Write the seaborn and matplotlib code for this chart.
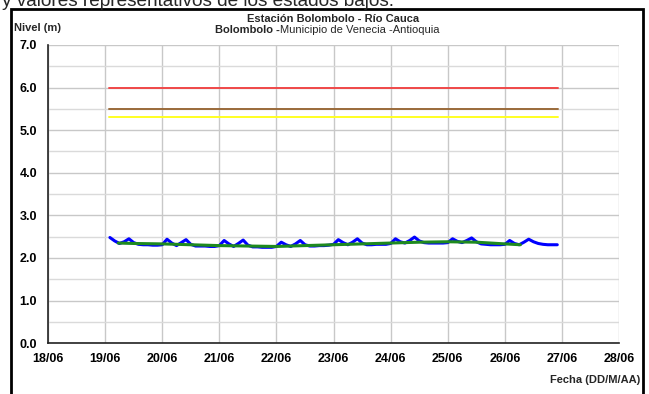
import pandas as pd
import numpy as np
import matplotlib
matplotlib.use('Agg')
import matplotlib.pyplot as plt
import matplotlib.dates as mdates
from matplotlib.patches import Rectangle
import seaborn as sns

# Nivel horario (cada 2 h) - 19/06 02:00 a 26/06 22:00
nivel_19 = [2.48, 2.40, 2.34, 2.38, 2.45, 2.36, 2.32, 2.31, 2.31, 2.30, 2.30]
nivel_20 = [2.31, 2.44, 2.35, 2.29, 2.36, 2.43, 2.32, 2.28, 2.28, 2.28, 2.27, 2.27]
nivel_21 = [2.29, 2.41, 2.33, 2.27, 2.34, 2.42, 2.30, 2.26, 2.26, 2.25, 2.25, 2.25]
nivel_22 = [2.27, 2.37, 2.31, 2.27, 2.33, 2.41, 2.31, 2.28, 2.28, 2.29, 2.29, 2.30]
nivel_23 = [2.32, 2.43, 2.36, 2.31, 2.37, 2.45, 2.35, 2.31, 2.31, 2.32, 2.32, 2.32]
nivel_24 = [2.34, 2.45, 2.38, 2.35, 2.41, 2.49, 2.40, 2.36, 2.35, 2.35, 2.35, 2.35]
nivel_25 = [2.36, 2.45, 2.39, 2.36, 2.41, 2.47, 2.38, 2.33, 2.32, 2.31, 2.31, 2.31]
nivel_26 = [2.32, 2.41, 2.34, 2.31, 2.37, 2.44, 2.38, 2.34, 2.32, 2.31, 2.31, 2.31]

# Media movil
media_fechas = ['2010-06-19 05:30', '2010-06-19 12:00', '2010-06-20 00:00', '2010-06-20 12:00',
                '2010-06-21 00:00', '2010-06-21 12:00', '2010-06-22 00:00', '2010-06-22 12:00',
                '2010-06-23 00:00', '2010-06-23 12:00', '2010-06-24 00:00', '2010-06-24 12:00',
                '2010-06-25 00:00', '2010-06-25 12:00', '2010-06-26 00:00', '2010-06-26 06:30']
media_valores = [2.35, 2.34, 2.33, 2.31, 2.29, 2.28, 2.27, 2.29,
                 2.31, 2.33, 2.35, 2.37, 2.38, 2.37, 2.33, 2.31]

# Umbrales
umbral_valores = [6.0, 5.5, 5.3]
umbral_colores = ['#f04848', '#9a6a3a', '#ffff22']
umbral_inicio = '2010-06-19 01:40'
umbral_fin = '2010-06-26 22:20'

nivel = nivel_19 + nivel_20 + nivel_21 + nivel_22 + nivel_23 + nivel_24 + nivel_25 + nivel_26
fechas = pd.date_range('2010-06-19 02:00', periods=len(nivel), freq='2h')
df = pd.DataFrame({'fecha': fechas, 'nivel': nivel})
df_media = pd.DataFrame({'fecha': pd.to_datetime(media_fechas), 'nivel': media_valores})

sns.set_style('white')
plt.rcParams['font.family'] = ['Liberation Sans', 'DejaVu Sans']

fig = plt.figure(figsize=(6.49, 3.94), dpi=100)
ax = fig.add_axes([0.074, 0.129, 0.880, 0.757])

for val, col in zip(umbral_valores, umbral_colores):
    d = pd.DataFrame({'fecha': pd.to_datetime([umbral_inicio, umbral_fin]), 'nivel': [val, val]})
    sns.lineplot(data=d, x='fecha', y='nivel', color=col, linewidth=1.4, ax=ax)

sns.lineplot(data=df, x='fecha', y='nivel', color='#0000ff', linewidth=2.2, ax=ax)
sns.lineplot(data=df_media, x='fecha', y='nivel', color='#1e8a1e', linewidth=2.2, ax=ax)

ax.set_xlim(pd.Timestamp('2010-06-18'), pd.Timestamp('2010-06-28'))
ax.set_ylim(0, 7)
ax.xaxis.set_major_locator(mdates.DayLocator())
ax.xaxis.set_major_formatter(mdates.DateFormatter('%d/%m'))
ax.set_yticks(np.arange(0, 7.5, 1.0))
ax.set_yticks(np.arange(0, 7.5, 0.5), minor=True)
ax.yaxis.set_major_formatter(matplotlib.ticker.FormatStrFormatter('%.1f'))
ax.grid(True, which='major', color='#c8c8c8', linewidth=1.0)
ax.grid(True, which='minor', axis='y', color='#dadada', linewidth=1.0)
ax.tick_params(axis='both', which='major', direction='out', length=4, width=1,
               labelsize=9, colors='black')
ax.tick_params(axis='x', pad=3)
ax.tick_params(axis='y', pad=4)
ax.tick_params(axis='y', which='minor', length=0)
for lab in ax.get_xticklabels() + ax.get_yticklabels():
    lab.set_fontweight('bold')
for s in ['top', 'right']:
    ax.spines[s].set_visible(False)
for s in ['left', 'bottom']:
    ax.spines[s].set_color('#222222')
    ax.spines[s].set_linewidth(1.2)
ax.set_xlabel('')
ax.set_ylabel('')

# marco exterior
fig.patches.append(Rectangle((0.017, -0.05), 0.974, 1.027, transform=fig.transFigure,
                             fill=False, edgecolor='black', linewidth=2, clip_on=False))

fig.text(0.003, 0.985, 'y valores representativos de los estados bajos.', fontsize=13.7,
         ha='left', va='baseline')
fig.text(0.513, 0.952, 'Estación Bolombolo - Río Cauca', fontsize=8, fontweight='bold',
         ha='center', va='center')
fig.text(0.431, 0.923, 'Bolombolo -', fontsize=8, fontweight='bold', ha='right', va='center')
fig.text(0.431, 0.923, 'Municipio de Venecia -Antioquia', fontsize=8, ha='left', va='center')
fig.text(0.022, 0.929, 'Nivel (m)', fontsize=8, fontweight='bold', ha='left', va='center')
fig.text(0.986, 0.036, 'Fecha (DD/M/AA)', fontsize=8, fontweight='bold', ha='right', va='center')

fig.savefig('out.png', dpi=100)
